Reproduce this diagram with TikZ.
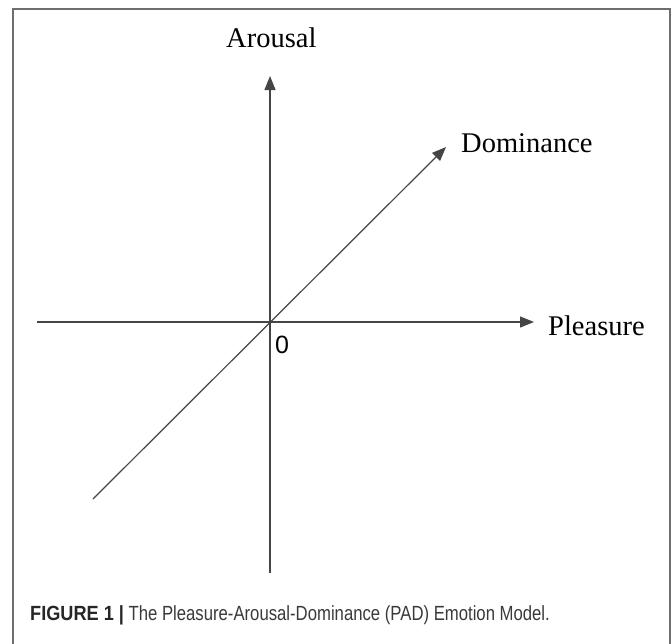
\documentclass[tikz,border=0pt]{standalone}
\usepackage{fontspec}
\setmainfont{Liberation Serif}
\newfontfamily\capfont{Liberation Sans}
\usetikzlibrary{arrows.meta}
\definecolor{axisgray}{HTML}{454545}
\definecolor{framegray}{HTML}{6E6E6E}
\definecolor{captext}{HTML}{3A3A3A}
\begin{document}
\begin{tikzpicture}[x=1pt,y=-1pt,
  axis/.style={draw=axisgray,line width=1.2pt},
  axisarrow/.style={axis,-{Triangle[length=14pt,width=11pt]}},
  axislabel/.style={font=\fontsize{28.5}{30}\selectfont,text=black,inner sep=0pt},
  frameline/.style={draw=framegray,line width=2pt}]
\useasboundingbox (0,0) rectangle (672,643);
\draw[frameline] (13,660) -- (13,9) -- (670,9) -- (670,660);
% axis end points
\coordinate (atop) at (270,76);
\coordinate (abot) at (270,573);
\coordinate (pleft) at (37,322);
\coordinate (pright) at (534,322);
\coordinate (dlow) at (93,499);
\coordinate (dhigh) at (446,147);
\draw[axisarrow] (abot) -- (atop);
\draw[axisarrow] (pleft) -- (pright);
\draw[axisarrow] (dlow) -- (dhigh);
% labels
\node[axislabel,anchor=base west] (arousal) at (226,47) {Arousal};
\node[axislabel,anchor=base west] (dominance) at (461,152) {Dominance};
\node[axislabel,anchor=base west] (pleasure) at (548,335) {Pleasure};
\node[font=\capfont\fontsize{25}{26}\selectfont,anchor=base,inner sep=0pt] (zero) at (282,353) {0};
\node[font=\capfont\fontsize{20.5}{21}\selectfont,anchor=base west,inner sep=0pt,text=captext] (caption) at (30,620)
  {\scalebox{0.885}[1]{\textcolor{black!85}{\textbf{FIGURE 1 |}}}\scalebox{0.815}[1]{ The Pleasure-Arousal-Dominance (PAD) Emotion Model.}};
\end{tikzpicture}
\end{document}
